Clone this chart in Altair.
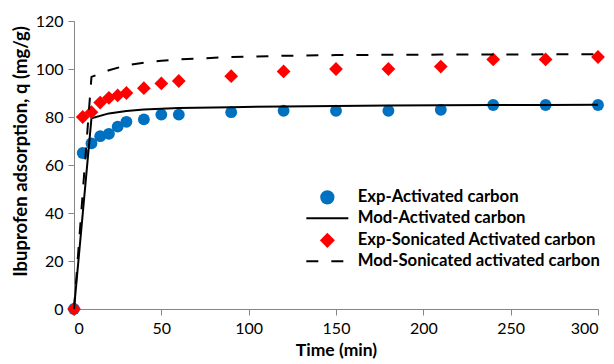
import altair as alt
import pandas as pd

# Series names (legend order)
s_exp_ac = "Exp-Activated carbon"
s_mod_ac = "Mod-Activated carbon"
s_exp_sac = "Exp-Sonicated Activated carbon"
s_mod_sac = "Mod-Sonicated activated carbon"
series_order = [s_exp_ac, s_mod_ac, s_exp_sac, s_mod_sac]

# Experimental uptake (mg/g) vs time (min)
t_exp = [0, 5, 10, 15, 20, 25, 30, 40, 50, 60, 90, 120, 150, 180, 210, 240, 270, 300]
q_exp_ac = [0, 65, 69, 72, 73, 76, 78, 79, 81, 81, 82, 82.6, 82.6, 82.6, 83, 85, 85, 85]
q_exp_sac = [0, 80, 82, 86, 88, 89, 90, 92, 94, 95, 97, 99, 100, 100, 101, 104, 104, 105]

# Kinetic model curves
t_mod = [0, 10, 20, 30, 40, 50, 60, 90, 120, 150, 180, 210, 240, 270, 300]
q_mod_ac = [0, 79.5, 81.5, 82.5, 83.1, 83.4, 83.7, 84.1, 84.4, 84.6, 84.8, 84.9, 85.0, 85.0, 85.1]
q_mod_sac = [0, 96.7, 99.5, 101.5, 102.6, 103.4, 104.0, 105.0, 105.5, 105.8, 105.9, 106.0, 106.0, 106.1, 106.1]

x_ticks = [0, 50, 100, 150, 200, 250, 300]
y_ticks = [0, 20, 40, 60, 80, 100, 120]

colors = ["#0070C0", "#000000", "#FF0000", "#000000"]
# legend glyphs: circle, solid line, diamond, dashed line
shapes = [
    "circle",
    "M-3.43,0H3.43",
    "diamond",
    "M-3.43,0H-1.47M0.65,0H2.61",
]

exp_ac = pd.DataFrame({"t": t_exp, "q": q_exp_ac, "series": s_exp_ac})
exp_sac = pd.DataFrame({"t": t_exp, "q": q_exp_sac, "series": s_exp_sac})
mod_ac = pd.DataFrame({"t": t_mod, "q": q_mod_ac, "series": s_mod_ac})
mod_sac = pd.DataFrame({"t": t_mod, "q": q_mod_sac, "series": s_mod_sac})

FONT = "Lato"

x_enc = alt.X(
    "t:Q",
    scale=alt.Scale(domain=[0, 300], nice=False),
    axis=alt.Axis(
        values=x_ticks, title="Time (min)", grid=False,
        domainColor="#868686", tickColor="#868686", tickSize=6,
        labelFont=FONT, labelFontSize=16, labelColor="black", labelPadding=5,
        titleFont=FONT, titleFontSize=17.5, titleFontWeight="bold",
        titleColor="black", titlePadding=5,
    ),
)
y_enc = alt.Y(
    "q:Q",
    scale=alt.Scale(domain=[0, 120], nice=False),
    axis=alt.Axis(
        values=y_ticks, title="Ibuprofen adsorption, q (mg/g)", grid=False,
        domainColor="#868686", tickColor="#868686", tickSize=6,
        labelFont=FONT, labelFontSize=16, labelColor="black", labelPadding=5,
        titleFont=FONT, titleFontSize=18.5, titleFontWeight="bold",
        titleColor="black", titlePadding=5, titleY=130,
    ),
)

legend = alt.Legend(
    title=None, orient="none", legendX=245, legendY=168,
    symbolSize=150, symbolStrokeWidth=2, symbolOpacity=1,
    labelFont=FONT, labelFontSize=16.7, labelFontWeight="bold",
    labelColor="black", labelOffset=22, rowPadding=2, labelLimit=400,
)

fill_enc = alt.Fill("series:N", scale=alt.Scale(domain=series_order, range=colors), legend=legend)
stroke_enc = alt.Stroke("series:N", scale=alt.Scale(domain=series_order, range=colors), legend=legend)
shape_enc = alt.Shape("series:N", scale=alt.Scale(domain=series_order, range=shapes), legend=legend)

pts_ac = alt.Chart(exp_ac).mark_point(
    filled=True, size=140, opacity=1, strokeWidth=0, clip=False
).encode(x=x_enc, y=y_enc, fill=fill_enc, stroke=stroke_enc, shape=shape_enc)

line_ac = alt.Chart(mod_ac).mark_line(
    color="black", strokeWidth=2
).encode(x=x_enc, y=y_enc)

pts_sac = alt.Chart(exp_sac).mark_point(
    filled=True, size=190, opacity=1, strokeWidth=0, clip=False
).encode(x=x_enc, y=y_enc, fill=fill_enc, stroke=stroke_enc, shape=shape_enc)

line_sac = alt.Chart(mod_sac).mark_line(
    color="black", strokeWidth=2, strokeDash=[12, 13]
).encode(x=x_enc, y=y_enc)

chart = (
    alt.layer(pts_ac, line_ac, pts_sac, line_sac)
    .properties(
        width=524, height=288,
        autosize=alt.AutoSizeParams(type="none"),
        padding={"left": 74, "top": 21, "right": 16, "bottom": 55},
        background="white",
    )
    .configure_view(stroke=None)
)

chart.save("out.html", embed_options={"renderer": "svg", "actions": False})
